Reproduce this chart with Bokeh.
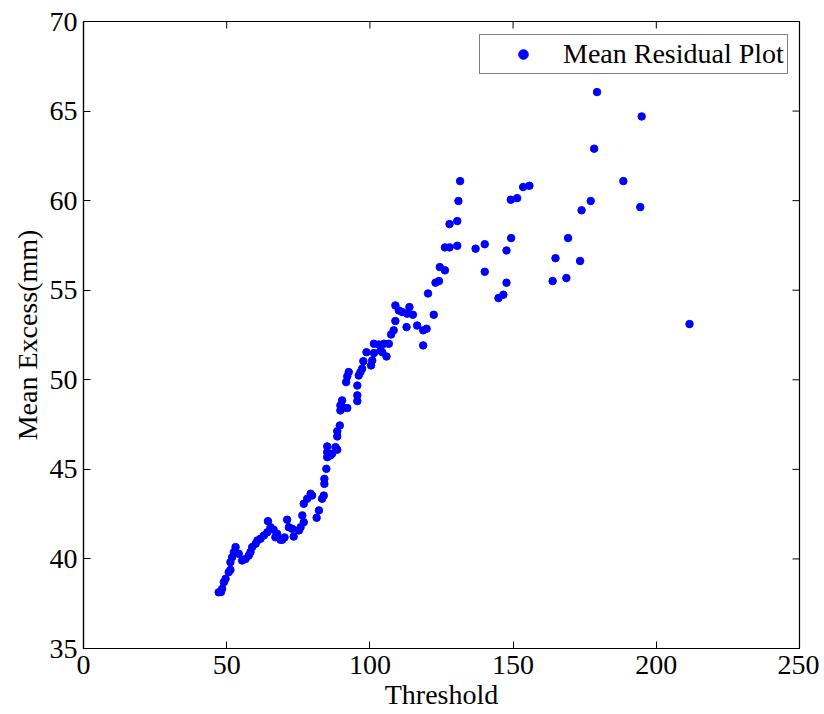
import math
from bokeh.plotting import figure
from bokeh.models import FixedTicker, Range1d
from bokeh.embed import file_html
from bokeh.resources import INLINE

threshold = [47.2, 48.0, 48.4, 49.0, 49.6, 50.7, 51.3, 51.3, 51.9, 52.5, 53.1, 54.2, 55.4, 56.6, 57.7,
             58.3, 58.9, 60.1, 60.7, 61.8, 63.0, 64.2, 64.4, 65.3, 66.4, 67.6, 67.0, 68.8, 69.4, 70.2,
             71.1, 71.7, 72.9, 73.4, 75.2, 75.8, 76.4, 76.9, 76.9, 78.1, 79.3, 79.8, 81.4, 82.2, 83.3,
             83.9, 84.1, 84.1, 84.8, 85.1, 85.1, 86.2, 86.8, 85.1, 88.0, 88.6, 88.6, 88.6, 89.5, 89.7,
             89.7, 90.3, 90.9, 92.1, 91.7, 92.1, 92.6, 95.6, 95.6, 95.6, 96.1, 96.7, 97.3, 97.7, 98.8,
             100.4, 100.8, 101.4, 101.4, 103.1, 103.7, 104.9, 105.8, 104.3, 106.6, 107.4, 108.3, 108.9,
             108.9, 110.1, 111.3, 112.8, 113.0, 113.8, 115.0, 116.5, 118.6, 119.8, 118.6, 120.3, 122.3,
             122.9, 124.1, 124.4, 126.2, 126.2, 127.8, 130.5, 127.8, 130.5, 130.9, 131.5, 136.9, 140.1,
             140.1, 144.9, 146.6, 147.7, 147.7, 149.3, 149.2, 151.4, 153.5, 155.7, 163.8, 164.8, 168.6,
             169.2, 173.4, 173.9, 177.1, 178.3, 179.3, 188.5, 194.4, 194.9, 211.6]
mean_excess = [38.14, 38.15, 38.33, 38.70, 38.89, 39.26, 39.39, 39.82, 40.10, 40.38, 40.66, 40.29, 39.91,
               40.00, 40.19, 40.38, 40.66, 40.85, 41.03, 41.13, 41.31, 41.49, 42.11, 41.77, 41.63, 41.40,
               41.21, 41.07, 41.07, 41.20, 42.19, 41.77, 41.68, 41.25, 41.59, 41.77, 42.43, 42.05, 43.08,
               43.36, 43.64, 43.54, 42.30, 42.71, 43.36, 43.54, 44.19, 44.47, 45.03, 45.96, 45.68, 45.78,
               45.87, 46.28, 46.24, 46.10, 46.84, 47.13, 47.45, 48.29, 48.57, 48.85, 48.44, 48.42, 49.87,
               50.19, 50.43, 49.68, 49.13, 48.81, 50.24, 50.43, 50.62, 51.04, 51.54, 50.80, 51.08, 51.49,
               52.01, 51.97, 51.64, 52.01, 51.30, 51.54, 52.01, 52.53, 52.76, 53.28, 54.15, 53.87, 53.78,
               52.94, 53.69, 54.06, 53.63, 53.03, 52.76, 52.85, 51.92, 54.82, 53.63, 55.42, 55.51, 56.29,
               56.11, 57.39, 57.39, 57.48, 58.69, 58.86, 59.98, 61.09, 57.32, 57.57, 56.03, 54.56, 54.75,
               55.42, 57.22, 57.91, 60.05, 60.14, 60.76, 60.83, 55.51, 56.79, 55.68, 57.91, 56.63, 59.46,
               59.98, 62.90, 66.06, 61.09, 59.64, 64.70, 53.11]

x_ticks = [0, 50, 100, 150, 200, 250]
y_ticks = [35, 40, 45, 50, 55, 60, 65, 70]

FONT = "Liberation Serif"
FS = "28px"

p = figure(frame_width=716, frame_height=627, output_backend="svg", toolbar_location=None,
           x_range=Range1d(x_ticks[0], x_ticks[-1]), y_range=Range1d(y_ticks[0], y_ticks[-1]),
           min_border_left=83, min_border_right=20, min_border_top=21, min_border_bottom=40)
p.background_fill_color = "white"
p.border_fill_color = "white"
p.outline_line_color = "black"
p.outline_line_width = 1.2
p.xgrid.visible = False
p.ygrid.visible = False

p.scatter(threshold, mean_excess, size=7.5, color="#0000FF", legend_label="Mean Residual Plot")

# mirrored inward ticks on the top and right edges of the box
p.ray(x=x_ticks, y=[y_ticks[-1]] * len(x_ticks), length=7, length_units="screen",
      angle=-math.pi / 2, line_color="black", line_width=1)
p.ray(x=[x_ticks[-1]] * len(y_ticks), y=y_ticks, length=7, length_units="screen",
      angle=math.pi, line_color="black", line_width=1)

def style_axis(ax, ticks):
    ax.ticker = FixedTicker(ticks=ticks)
    ax.major_tick_in = 7
    ax.major_tick_out = 0
    ax.minor_tick_in = 0
    ax.minor_tick_out = 0
    ax.axis_line_color = "black"
    ax.axis_line_width = 1.2
    ax.major_tick_line_color = "black"
    ax.major_tick_line_width = 1
    ax.major_label_text_font = FONT
    ax.major_label_text_font_size = FS
    ax.major_label_text_color = "black"
    ax.axis_label_text_font = FONT
    ax.axis_label_text_font_size = FS
    ax.axis_label_text_font_style = "normal"
    ax.axis_label_text_color = "black"

xa = p.xaxis[0]
ya = p.yaxis[0]
style_axis(xa, x_ticks)
style_axis(ya, y_ticks)
xa.axis_label = "Threshold"
ya.axis_label = "Mean Excess(mm)"
xa.major_label_standoff = 7
xa.axis_label_standoff = 2
ya.major_label_standoff = 6
ya.axis_label_standoff = 4

lg = p.legend[0]
lg.location = (396, 574)
lg.margin = 0
lg.padding = 3
lg.spacing = 0
lg.glyph_width = 80
lg.glyph_height = 24
lg.label_standoff = 0
lg.label_text_font = FONT
lg.label_text_font_size = FS
lg.label_text_color = "black"
lg.border_line_color = "black"
lg.border_line_width = 1.5
lg.background_fill_color = "white"
lg.background_fill_alpha = 1.0

open("out.html", "w").write(file_html(p, INLINE))
